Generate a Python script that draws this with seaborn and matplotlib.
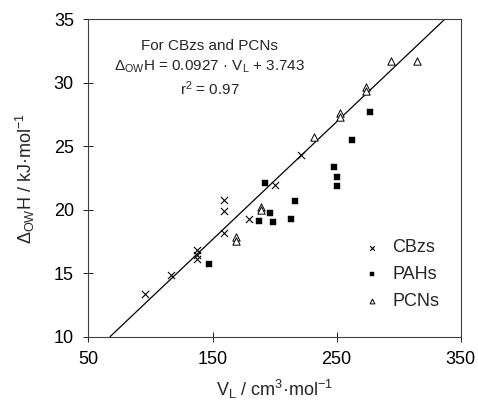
import matplotlib
matplotlib.use('Agg')
import matplotlib.pyplot as plt
import numpy as np
import pandas as pd
import seaborn as sns

# datos: V_L (cm3/mol) y Delta_OW H (kJ/mol)
cbz_v = [95.5, 116.9, 137.8, 137.8, 137.8, 159.3, 159.3, 159.3, 179.4, 200.0, 221.5]
cbz_h = [13.34, 14.86, 16.83, 16.43, 16.12, 20.76, 19.89, 18.14, 19.24, 21.94, 24.30]

pah_v = [146.9, 187.4, 192.0, 196.0, 198.7, 212.9, 216.7, 247.8, 250.5, 250.5, 262.2, 276.5]
pah_h = [15.72, 19.11, 22.07, 19.71, 19.00, 19.24, 20.71, 23.33, 22.59, 21.86, 25.48, 27.71]

pcn_v = [168.7, 168.7, 189.3, 189.3, 231.4, 252.3, 252.3, 273.8, 273.8, 293.9, 314.5]
pcn_h = [17.87, 17.56, 20.23, 19.97, 25.69, 27.63, 27.26, 29.67, 29.36, 31.72, 31.72]

fit_slope = 0.0927
fit_intercept = 3.743
r2 = 0.97

x_ticks = [50, 150, 250, 350]
y_ticks = [10, 15, 20, 25, 30, 35]

sns.set_theme(style="ticks")
plt.rcParams['font.family'] = ['Liberation Sans', 'DejaVu Sans']
plt.rcParams['mathtext.fontset'] = 'custom'
plt.rcParams['mathtext.rm'] = 'Liberation Sans'
plt.rcParams['mathtext.it'] = 'Liberation Sans:italic'
plt.rcParams['mathtext.bf'] = 'Liberation Sans:bold'

fig = plt.figure(figsize=(4.78, 4.07), dpi=100)
ax = fig.add_axes([0.185, 0.173, 0.779, 0.780])

df_cbz = pd.DataFrame({'v': cbz_v, 'h': cbz_h})
df_pah = pd.DataFrame({'v': pah_v, 'h': pah_h})
df_pcn = pd.DataFrame({'v': pcn_v, 'h': pcn_h})

# recta de regresion entre los limites del eje y
y_line = np.array([y_ticks[0], y_ticks[-1]])
df_fit = pd.DataFrame({'v': (y_line - fit_intercept) / fit_slope, 'h': y_line})
sns.lineplot(data=df_fit, x='v', y='h', color='black', lw=0.9, ax=ax, zorder=1)

sns.scatterplot(data=df_cbz, x='v', y='h', marker='x', color='black', s=26,
                linewidth=0.8, label='CBzs', ax=ax, zorder=3)
sns.scatterplot(data=df_pah, x='v', y='h', marker='s', color='black', s=22,
                edgecolor='black', linewidth=0.3, label='PAHs', ax=ax, zorder=3)
sns.scatterplot(data=df_pcn, x='v', y='h', marker='^', facecolor='white', s=28,
                edgecolor='black', linewidth=0.7, label='PCNs', ax=ax, zorder=3)

ax.set_xlim(x_ticks[0], x_ticks[-1])
ax.set_ylim(y_ticks[0], y_ticks[-1])
ax.set_xticks(x_ticks)
ax.set_yticks(y_ticks)
ax.tick_params(direction='inout', length=7, width=0.6, labelsize=13, colors='black', pad=7)
for sp in ax.spines.values():
    sp.set_visible(True)
    sp.set_color('#404040')
    sp.set_linewidth(0.8)

ax.set_xlabel('V$_{\\rm L}$ / cm$^{3}$·mol$^{-1}$', fontsize=13, labelpad=7)
ax.set_ylabel('Δ$_{\\rm OW}$H / kJ·mol$^{-1}$', fontsize=13, labelpad=12)

ax.text(0.326, 0.915, 'For CBzs and PCNs', transform=ax.transAxes, ha='center',
        va='center', fontsize=11)
ax.text(0.326, 0.849, 'Δ$_{\\rm OW}$H = %.4f · V$_{\\rm L}$ + %.3f' % (fit_slope, fit_intercept),
        transform=ax.transAxes, ha='center', va='center', fontsize=11)
ax.text(0.326, 0.78, 'r$^{2}$ = %.2f' % r2, transform=ax.transAxes, ha='center',
        va='center', fontsize=11)

ax.legend(frameon=False, loc='center left', bbox_to_anchor=(0.69, 0.195), fontsize=13,
          markerscale=0.65, handletextpad=0.5, labelspacing=0.55, handlelength=1.2)

plt.savefig('out.png', dpi=100)
plt.close()
